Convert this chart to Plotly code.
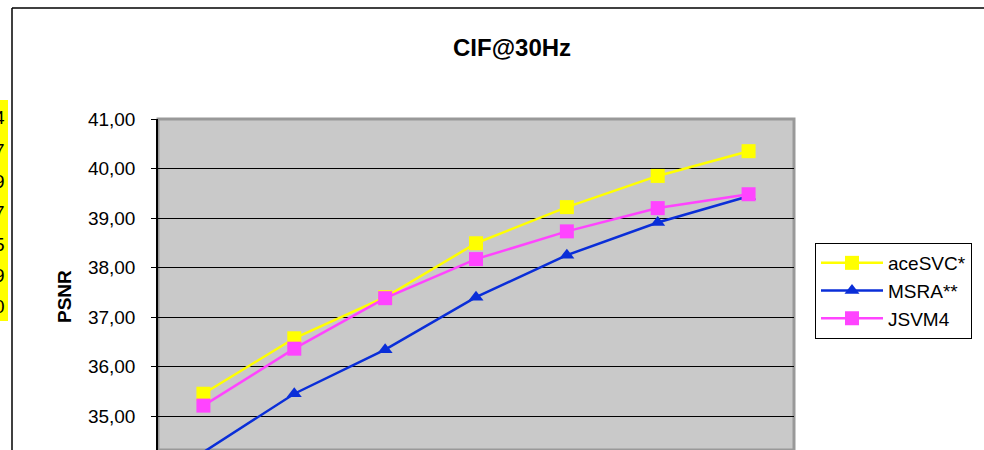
import plotly.graph_objects as go

# ---- data ----
rate_points = ["1", "2", "3", "4", "5", "6", "7"]
acesvc = [35.45, 36.57, 37.40, 38.49, 39.22, 39.85, 40.35]
msra = [34.27, 35.45, 36.34, 37.40, 38.25, 38.91, 39.44]
jsvm4 = [35.21, 36.36, 37.38, 38.17, 38.73, 39.20, 39.48]
series_names = ["aceSVC*", "MSRA**", "JSVM4"]
y_ticks = [35, 36, 37, 38, 39, 40, 41]
left_cell_digits = ["4", "7", "9", "7", "5", "9", "0"]

W, H = 984, 450
ML, MR, MT, MB = 158, 190, 119, 0
PW, PH = W - ML - MR, H - MT - MB


def px(x):
    return (x - ML) / PW


def py(y):
    return (H - MB - y) / PH


fig = go.Figure()
colors = ["#FFFF00", "#0A2ED8", "#FF44FF"]
symbols = ["square", "triangle-up", "square"]
xs = list(range(len(rate_points)))
for name, vals, c, s in zip(series_names, [acesvc, msra, jsvm4], colors, symbols):
    fig.add_trace(go.Scatter(
        x=xs, y=vals, name=name, mode="lines+markers",
        line=dict(color=c, width=2.5),
        marker=dict(color=c, symbol=s, size=14 if s == "square" else 13),
        legendgroup=name, cliponaxis=False,
    ))

shapes = [
    # plot area gray border
    dict(type="rect", xref="paper", yref="paper", x0=0, x1=1, y0=0, y1=1,
         line=dict(color="#999999", width=3), layer="below"),
    # outer chart frame
    dict(type="line", xref="paper", yref="paper", x0=px(12), x1=px(W + 5), y0=py(8), y1=py(8),
         line=dict(color="black", width=1.5)),
    dict(type="line", xref="paper", yref="paper", x0=px(12), x1=px(12), y0=py(8), y1=py(H + 5),
         line=dict(color="black", width=1.5)),
    # yellow cell at far left
    dict(type="rect", xref="paper", yref="paper", x0=px(-5), x1=px(8), y0=py(100), y1=py(321),
         fillcolor="#FFFF00", line=dict(width=0)),
]

annotations = [
    dict(text="<b>CIF@30Hz</b>", xref="paper", yref="paper", x=px(512), y=py(48),
         showarrow=False, font=dict(family="Arial", size=24, color="black"),
         xanchor="center", yanchor="middle"),
    dict(text="<b>PSNR</b>", xref="paper", yref="paper", x=px(64), y=py(297),
         showarrow=False, textangle=-90, font=dict(family="Arial", size=19, color="black"),
         xanchor="center", yanchor="middle"),
]
cell_y = [118, 150, 181, 212, 244, 275, 306]
for d, yy in zip(left_cell_digits, cell_y):
    annotations.append(dict(text=d, xref="paper", yref="paper", x=px(6.5), y=py(yy),
                            showarrow=False, xanchor="right", yanchor="middle",
                            font=dict(family="Arial", size=19, color="black")))

fig.update_layout(
    width=W, height=H,
    margin=dict(l=ML, r=MR, t=MT, b=MB, pad=0),
    paper_bgcolor="white", plot_bgcolor="#C9C9C9",
    separators=",.",
    showlegend=True,
    legend=dict(x=px(815), y=py(243), xanchor="left", yanchor="top",
                bgcolor="white", bordercolor="black", borderwidth=1,
                font=dict(family="Arial", size=19, color="black"),
                itemwidth=62, tracegroupgap=1, traceorder="normal"),
    xaxis=dict(range=[-0.5, 6.5], showticklabels=False, showgrid=False, zeroline=False,
               ticks="", showline=False),
    yaxis=dict(range=[41 - (H - MT) / 49.5, 41], tickvals=y_ticks, tickformat=".2f",
               showgrid=True, gridcolor="black", gridwidth=1, zeroline=False,
               showline=True, linecolor="black", linewidth=1.5,
               ticks="outside", ticklen=5, tickcolor="black", ticklabelstandoff=12,
               tickfont=dict(family="Arial", size=19, color="black")),
    shapes=shapes, annotations=annotations,
)

fig.write_html("out.html", config={"displayModeBar": False},
               post_script="document.body.style.margin='0';document.body.style.overflow='hidden';")
